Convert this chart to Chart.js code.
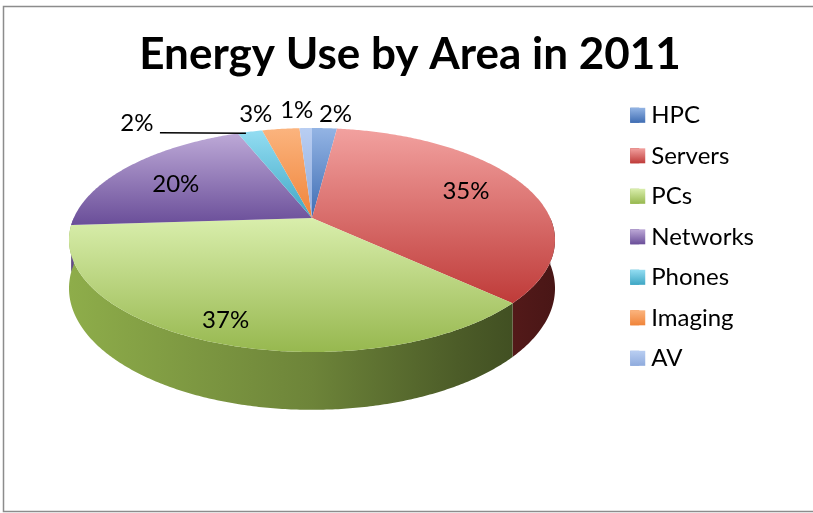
<!DOCTYPE html>
<html>
<head>
<meta charset="utf-8">
<title>Energy Use by Area in 2011</title>
<script src="https://cdn.jsdelivr.net/npm/chart.js@4.4.0/dist/chart.umd.min.js"></script>
<style>
  body { margin: 0; background: #fff; }
  canvas { display: block; }
</style>
</head>
<body>
<canvas id="energyChart" width="813" height="513"></canvas>
<script>
var areas = ['HPC', 'Servers', 'PCs', 'Networks', 'Phones', 'Imaging', 'AV'];
var shares = [2, 35, 37, 20, 2, 3, 1];

// top / bottom shade of each slice face
var lightColors = ['#93b4e4', '#f2a19f', '#d9eeac', '#bda9d7', '#93ddf2', '#fbb47e', '#b9cef2'];
var darkColors = ['#3f6db3', '#bf3b39', '#97b84f', '#6a4e99', '#3ea6c4', '#f0843a', '#8fabdd'];

// where each slice label sits: radius on the pie (1 = rim), then a nudge
var labelSpots = [
  { r: 1, dx: 11, dy: -14 },
  { r: 0.7, dx: 4, dy: -2 },
  { r: 0.85, dx: -5, dy: 0 },
  { r: 0.7, dx: -5, dy: 4 },
  { r: 1, dx: -113, dy: -8, leader: true },
  { r: 1, dx: -25, dy: -15 },
  { r: 1, dx: -9, dy: -18 }
];

// tilted pie geometry
var CX = 312, CY = 240, RX = 243, RY = 112;
var TILT = -0.196;   // how far the apex is pushed towards the back
var DEPTH = 46.5;
var SWATCH = 15;

function project(angle, r) {
  var x = r * Math.cos(angle), y = r * Math.sin(angle);
  var d = 1 + TILT * y;
  return {
    x: CX + RX * x * Math.sqrt(1 - TILT * TILT) / d,
    y: CY + RY * (y + TILT) / d
  };
}

function depthAt(angle) {
  return DEPTH / (1 + TILT * Math.sin(angle));
}

function shade(hex, f) {
  var n = parseInt(hex.slice(1), 16);
  var r = Math.round(((n >> 16) & 255) * f);
  var g = Math.round(((n >> 8) & 255) * f);
  var b = Math.round((n & 255) * f);
  return 'rgb(' + r + ',' + g + ',' + b + ')';
}

function rimPoints(a0, a1) {
  var pts = [];
  var steps = Math.max(2, Math.ceil((a1 - a0) / 0.01));
  for (var k = 0; k <= steps; k++) {
    var a = a0 + (a1 - a0) * k / steps;
    pts.push({ a: a, p: project(a, 1) });
  }
  return pts;
}

var pie3d = {
  id: 'pie3d',
  beforeDraw: function(chart) {
    var ctx = chart.ctx;
    ctx.save();
    ctx.strokeStyle = '#8c8c8c';
    ctx.lineWidth = 1.5;
    ctx.beginPath();
    ctx.moveTo(813, 6.5);
    ctx.lineTo(3.5, 6.5);
    ctx.lineTo(3.5, 511.5);
    ctx.lineTo(813, 511.5);
    ctx.stroke();
    ctx.restore();
  },
  beforeDatasetsDraw: function(chart) {
    var ctx = chart.ctx;
    var arcs = chart.getDatasetMeta(0).data;
    ctx.save();

    // outer walls, front half only
    arcs.forEach(function(arc, i) {
      var a0 = Math.max(arc.startAngle, 0), a1 = Math.min(arc.endAngle, Math.PI);
      if (a1 <= a0) return;
      var pts = rimPoints(a0, a1);
      var g = ctx.createLinearGradient(CX - RX, 0, CX + RX, 0);
      g.addColorStop(0, shade(darkColors[i], 0.94));
      g.addColorStop(0.5, shade(darkColors[i], 0.72));
      g.addColorStop(0.8, shade(darkColors[i], 0.5));
      g.addColorStop(1, shade(darkColors[i], 0.38));
      ctx.beginPath();
      pts.forEach(function(q, k) {
        if (k === 0) ctx.moveTo(q.p.x, q.p.y); else ctx.lineTo(q.p.x, q.p.y);
      });
      for (var k = pts.length - 1; k >= 0; k--) {
        ctx.lineTo(pts[k].p.x, pts[k].p.y + depthAt(pts[k].a));
      }
      ctx.closePath();
      ctx.fillStyle = g;
      ctx.fill();
    });

    // top faces
    var apex = project(0, 0);
    arcs.forEach(function(arc, i) {
      var pts = rimPoints(arc.startAngle, arc.endAngle);
      var top = apex.y, bottom = apex.y;
      ctx.beginPath();
      ctx.moveTo(apex.x, apex.y);
      pts.forEach(function(q) {
        ctx.lineTo(q.p.x, q.p.y);
        top = Math.min(top, q.p.y);
        bottom = Math.max(bottom, q.p.y);
      });
      ctx.closePath();
      var g = ctx.createLinearGradient(0, top, 0, bottom);
      g.addColorStop(0, lightColors[i]);
      g.addColorStop(1, darkColors[i]);
      ctx.fillStyle = g;
      ctx.fill();
    });
    ctx.restore();
    return false;
  },
  afterDraw: function(chart) {
    var ctx = chart.ctx;
    var arcs = chart.getDatasetMeta(0).data;
    ctx.save();

    // percentage labels
    ctx.fillStyle = '#000';
    ctx.font = '24px Lato';
    ctx.textAlign = 'center';
    ctx.textBaseline = 'middle';
    arcs.forEach(function(arc, i) {
      var spot = labelSpots[i];
      var mid = (arc.startAngle + arc.endAngle) / 2;
      var p = project(mid, spot.r);
      var x = p.x + spot.dx, y = p.y + spot.dy;
      ctx.fillText(shares[i] + '%', x, y);
      if (spot.leader) {
        ctx.beginPath();
        ctx.lineWidth = 1.5;
        ctx.strokeStyle = '#000';
        ctx.moveTo(x + 23, y + 9);
        ctx.lineTo(p.x - 4, p.y + 1.5);
        ctx.stroke();
      }
    });

    // shaded legend swatches (wider than the box the legend reserves, so the text sits closer)
    chart.legend.legendHitBoxes.forEach(function(b, i) {
      var y = b.top + (24 - SWATCH) / 2;
      var g = ctx.createLinearGradient(0, y, 0, y + SWATCH);
      g.addColorStop(0, lightColors[i]);
      g.addColorStop(1, darkColors[i]);
      ctx.fillStyle = g;
      ctx.fillRect(b.left, y, SWATCH, SWATCH);
    });
    ctx.restore();
  }
};

var energyChart = new Chart(document.getElementById('energyChart').getContext('2d'), {
  type: 'pie',
  data: {
    labels: areas,
    datasets: [{
      data: shares,
      backgroundColor: darkColors,
      borderWidth: 0
    }]
  },
  options: {
    responsive: false,
    animation: false,
    events: [],
    layout: {
      padding: { left: 56, right: 49 }
    },
    plugins: {
      title: {
        display: true,
        text: 'Energy Use by Area in 2011',
        color: '#000',
        font: { family: 'Lato', size: 44, weight: 'bold' },
        padding: { top: 28, bottom: 6 }
      },
      legend: {
        position: 'right',
        align: 'start',
        fullSize: false,
        labels: {
          boxWidth: 9,
          boxHeight: 15,
          padding: 16.5,
          color: '#000',
          font: { family: 'Lato', size: 24 }
        }
      },
      tooltip: { enabled: false }
    }
  },
  plugins: [pie3d]
});
</script>
</body>
</html>
